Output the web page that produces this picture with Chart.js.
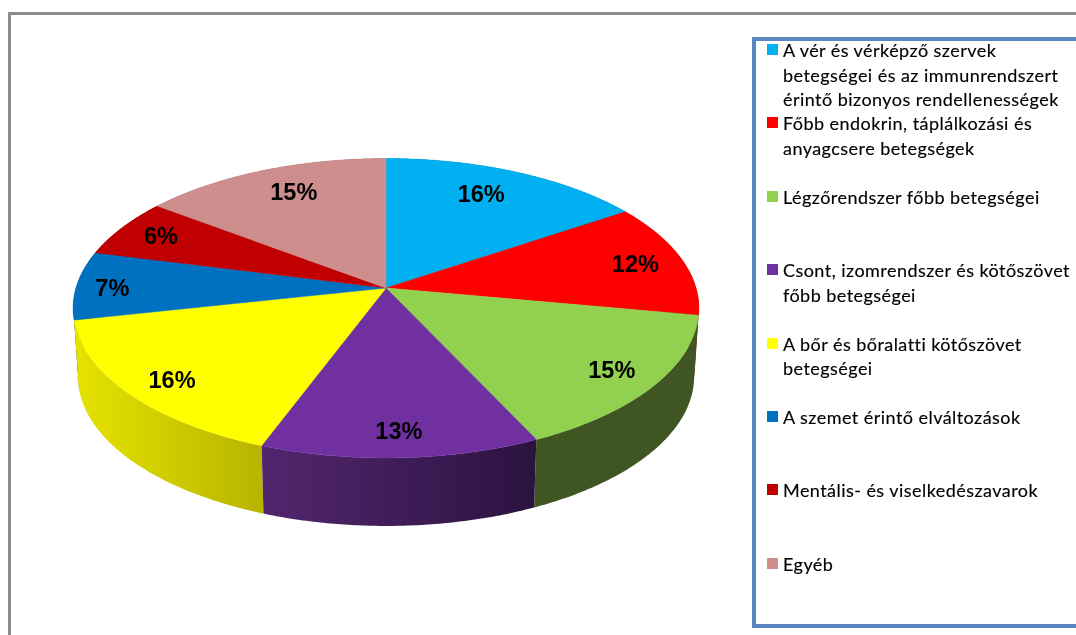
<!DOCTYPE html>
<html lang="hu">
<head>
<meta charset="utf-8">
<title>Betegségek megoszlása</title>
<script src="https://cdn.jsdelivr.net/npm/chart.js@4"></script>
<style>
    html, body { margin: 0; padding: 0; background: #fff; overflow: hidden; }
    #wrap { position: relative; width: 1076px; height: 635px; overflow: hidden; }
    #frame { position: absolute; left: 8px; top: 12px; right: 0; bottom: 0;
             border-left: 3px solid #8c8c8c; border-top: 3px solid #8c8c8c; }
    #pie { position: absolute; left: 0; top: 0; }
    #legend { position: absolute; left: 752px; top: 37px; width: 340px; height: 591px;
              box-sizing: border-box; border: 4px solid #5b87c0; }
    .item { position: absolute; left: 27px; font: 18px/24.5px Lato, sans-serif; color: #000;
            white-space: pre-line; letter-spacing: 0.45px; -webkit-text-stroke: 0.15px #000; }
    .swatch { position: absolute; left: -16px; top: 6px; width: 11px; height: 11px; }
</style>
</head>
<body>
<div id="wrap">
    <div id="frame"></div>
    <canvas id="pie" width="1076" height="635"></canvas>
    <div id="legend"></div>
</div>
<script>
const categories = [
    'A vér és vérképző szervek\nbetegségei és az immunrendszert\nérintő bizonyos rendellenességek',
    'Főbb endokrin, táplálkozási és\nanyagcsere betegségek',
    'Légzőrendszer főbb betegségei',
    'Csont, izomrendszer és kötőszövet\nfőbb betegségei',
    'A bőr és bőralatti kötőszövet\nbetegségei',
    'A szemet érintő elváltozások',
    'Mentális- és viselkedészavarok',
    'Egyéb'
];
// labels show these rounded, the slice edges give the decimals
const shares = [15.6, 12.3, 15.1, 12.7, 15.9, 7.4, 6.3, 14.7];
const topColors = ['#00B0F0', '#FF0000', '#92D050', '#7030A0', '#FFFF00', '#0070C0', '#C00000', '#CE8E8E'];
// side wall gradient, left to right
const wallLeft = ['#005878', '#800000', '#3F5522', '#53266F', '#E6E300', '#003860', '#600000', '#674747'];
const wallRight = ['#005878', '#800000', '#3F5522', '#2B1340', '#B8B400', '#003860', '#600000', '#674747'];
// hand placed percent labels, Excel does not keep them on one radius
const labelShiftX = [-15, 3, 7, 1, -4, -17, -4, 12];
const labelShiftY = [5, 2, 4, 7, 7, 4, 0, 5];

// tilt of the pie
const stretchX = 310 / 288;
const squashY = 147 / 288;
const perspective = 0.135;
const depth = 68;
const bottomShrink = 0.985;
const labelRadius = 0.83;

function project(el, angle, r) {
    const u = Math.cos(angle) * r;
    const v = Math.sin(angle) * r;
    const den = 1 - perspective * v;
    return {
        x: el.x + el.outerRadius * stretchX * u / den,
        y: el.y + el.outerRadius * squashY * v / den
    };
}

function rim(el) {
    const pts = [];
    const steps = Math.ceil((el.endAngle - el.startAngle) / 0.01);
    for (let i = 0; i <= steps; i++) {
        pts.push(project(el, el.startAngle + (el.endAngle - el.startAngle) * i / steps, 1));
    }
    return pts;
}

function drawWall(ctx, el, idx) {
    const top = rim(el);
    const bottom = top.map(p => ({ x: el.x + (p.x - el.x) * bottomShrink, y: p.y + depth }));
    const xs = top.concat(bottom).map(p => p.x);
    const grad = ctx.createLinearGradient(Math.min(...xs), 0, Math.max(...xs), 0);
    grad.addColorStop(0, wallLeft[idx]);
    grad.addColorStop(1, wallRight[idx]);
    ctx.beginPath();
    top.forEach((p, i) => (i ? ctx.lineTo(p.x, p.y) : ctx.moveTo(p.x, p.y)));
    bottom.reverse().forEach(p => ctx.lineTo(p.x, p.y));
    ctx.closePath();
    ctx.fillStyle = grad;
    ctx.fill();
}

function drawTop(ctx, el, idx) {
    ctx.beginPath();
    ctx.moveTo(el.x, el.y);
    rim(el).forEach(p => ctx.lineTo(p.x, p.y));
    ctx.closePath();
    ctx.fillStyle = topColors[idx];
    ctx.strokeStyle = topColors[idx];
    ctx.lineWidth = 0.5;
    ctx.fill();
    ctx.stroke();
}

// Chart.js can only draw round arcs, so the arcs it lays out are drawn tilted here
const tiltPlugin = {
    id: 'tilt',
    beforeDatasetsDraw(chart) {
        const ctx = chart.ctx;
        const arcs = chart.getDatasetMeta(0).data;
        const midSin = el => Math.sin((el.startAngle + el.endAngle) / 2);
        const order = arcs.map((el, i) => i).sort((a, b) => midSin(arcs[a]) - midSin(arcs[b]));
        ctx.save();
        order.forEach(i => drawWall(ctx, arcs[i], i));
        arcs.forEach((el, i) => drawTop(ctx, el, i));
        ctx.fillStyle = '#000';
        ctx.font = 'bold 23.5px "Liberation Sans", Arial, sans-serif';
        ctx.textAlign = 'center';
        ctx.textBaseline = 'middle';
        arcs.forEach((el, i) => {
            const p = project(el, (el.startAngle + el.endAngle) / 2, labelRadius);
            ctx.fillText(Math.round(shares[i]) + '%', p.x + labelShiftX[i], p.y + labelShiftY[i]);
        });
        ctx.restore();
        return false;
    }
};

new Chart(document.getElementById('pie').getContext('2d'), {
    type: 'pie',
    data: {
        labels: categories,
        datasets: [{ data: shares, backgroundColor: topColors, borderWidth: 0 }]
    },
    options: {
        responsive: false,
        animation: false,
        layout: { padding: { left: 74, right: 378, top: 0, bottom: 59 } },
        plugins: { legend: { display: false }, tooltip: { enabled: false } }
    },
    plugins: [tiltPlugin]
});

// Legend
const legend = document.getElementById('legend');
categories.forEach((name, idx) => {
    const item = document.createElement('div');
    item.className = 'item';
    item.style.top = (-3 + idx * 73.4) + 'px';
    item.textContent = name;
    const box = document.createElement('span');
    box.className = 'swatch';
    box.style.background = topColors[idx];
    item.appendChild(box);
    legend.appendChild(item);
});
</script>
</body>
</html>
